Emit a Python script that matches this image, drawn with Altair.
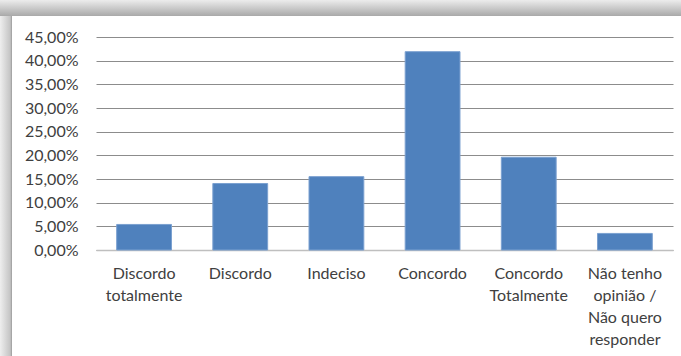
import altair as alt
import pandas as pd

categories = [
    "Discordo\ntotalmente",
    "Discordo",
    "Indeciso",
    "Concordo",
    "Concordo\nTotalmente",
    "Não tenho\nopinião /\nNão quero\nresponder",
]
values = [0.054, 0.1405, 0.155, 0.419, 0.196, 0.035]
y_ticks = [0.0, 0.05, 0.10, 0.15, 0.20, 0.25, 0.30, 0.35, 0.40, 0.45]

df = pd.DataFrame({"cat": categories, "val": values})
one = alt.Data(values=[{"k": 1}])

FONT = "Lato"
TEXT = "#404040"

top_grad = alt.LinearGradient(
    gradient="linear", x1=0, y1=0, x2=0, y2=1,
    stops=[alt.GradientStop(color="#ececec", offset=0),
           alt.GradientStop(color="#a9a9a9", offset=1)],
)

# decorative frame (shadow of the chart box)
top_shadow_a = alt.Chart(one).mark_rect(color=top_grad).encode(
    x=alt.value(-96), x2=alt.value(300), y=alt.value(-37), y2=alt.value(-21)
)
top_shadow_b = alt.Chart(one).mark_rect(color=top_grad).encode(
    x=alt.value(299), x2=alt.value(590), y=alt.value(-37), y2=alt.value(-21)
)

left_shadow = alt.Chart(one).mark_rect(
    color=alt.LinearGradient(
        gradient="linear", x1=0, y1=0, x2=1, y2=0,
        stops=[alt.GradientStop(color="#eeeeee", offset=0),
               alt.GradientStop(color="#c4c4c4", offset=0.85),
               alt.GradientStop(color="#9a9a9a", offset=1)],
    )
).encode(x=alt.value(-96), x2=alt.value(-84), y=alt.value(-21), y2=alt.value(319))

bars = (
    alt.Chart(df)
    .mark_bar(color="#4F81BD", stroke="#7BA0D0", strokeWidth=1)
    .encode(
        x=alt.X(
            "cat:N",
            sort=categories,
            title=None,
            scale=alt.Scale(paddingInner=0.43, paddingOuter=0.215),
            axis=alt.Axis(
                labelAngle=0,
                labelExpr="split(datum.label, '\\n')",
                labelBaseline="top",
                labelPadding=15,
                labelLineHeight=22,
                labelFontSize=16,
                labelFont=FONT,
                labelColor=TEXT,
                ticks=False,
                domainColor="#BFBFBF",
                domainWidth=1.5,
                grid=False,
                labelLimit=200,
            ),
        ),
        y=alt.Y(
            "val:Q",
            title=None,
            scale=alt.Scale(domain=[0, 0.45], nice=False),
            axis=alt.Axis(
                values=y_ticks,
                labelExpr="replace(format(datum.value, '.2%'), '.', ',')",
                labelFontSize=16,
                labelFont=FONT,
                labelColor=TEXT,
                labelPadding=18,
                ticks=False,
                domain=False,
                gridColor="#8C8C8C",
                gridWidth=1,
            ),
        ),
    )
)

chart = (
    alt.layer(top_shadow_a, top_shadow_b, left_shadow, bars)
    .properties(
        width=577,
        height=213,
        autosize=alt.AutoSizeParams(type="none"),
        padding={"left": 96, "top": 37, "right": 8, "bottom": 106},
        background="white",
    )
    .configure_view(stroke=None)
)

chart.save("out.html", embed_options={"renderer": "svg", "actions": False})
